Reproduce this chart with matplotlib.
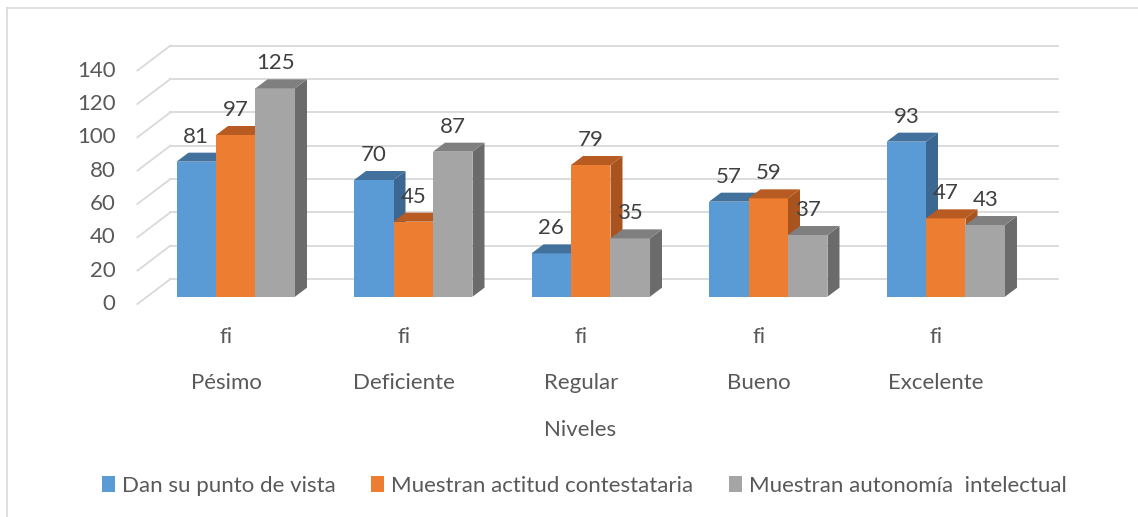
import matplotlib
matplotlib.use("Agg")
import matplotlib.pyplot as plt
from matplotlib.patches import Polygon, Patch
from matplotlib.lines import Line2D
from matplotlib.transforms import IdentityTransform
import numpy as np

categories = ["Pésimo", "Deficiente", "Regular", "Bueno", "Excelente"]
sub_label = "fi"
series_names = ["Dan su punto de vista", "Muestran actitud contestataria",
                "Muestran autonomía  intelectual"]
dan_su_punto = [81, 70, 26, 57, 93]
actitud_contestataria = [97, 45, 79, 59, 47]
autonomia_intelectual = [125, 87, 35, 37, 43]
yticks = [0, 20, 40, 60, 80, 100, 120, 140]
x_title = "Niveles"

series = [dan_su_punto, actitud_contestataria, autonomia_intelectual]
front_colors = ["#5B9BD5", "#ED7D31", "#A5A5A5"]
top_colors = ["#41719C", "#B85B22", "#7F7F7F"]
side_colors = ["#3B6790", "#A9541F", "#6B6B6B"]

DPI = 100
W, H = 1138, 517
fig = plt.figure(figsize=(W / DPI, H / DPI), dpi=DPI)
fig.patch.set_facecolor("white")
FONT = ["Lato", "DejaVu Sans"]
plt.rcParams["font.family"] = FONT
FS = 16

# axes = front plane of the bars (pixel geometry)
left_px, right_px = 147.0, 1034.5
bottom_px, top_px = 296.7, 63.3
ax = fig.add_axes([left_px / W, (H - bottom_px) / H,
                   (right_px - left_px) / W, (bottom_px - top_px) / H])
ax.set_xlim(-0.5, len(categories) - 0.5)
ax.set_ylim(0, 140)
ax.axis("off")

# depth shifts in pixels (x right, y up)
BACK = np.array([23.4, 17.7])
FLOOR = np.array([-9.6, -7.3])
DEPTH = np.array([12.0, 9.0])

def P(x, v, shift=(0, 0)):
    return ax.transData.transform((x, v)) + np.asarray(shift)

grid_c = "#D9D9D9"
for v in yticks:
    a = P(-0.5, v, BACK)
    b = P(len(categories) - 0.5, v, BACK)
    ax.add_line(Line2D([a[0], b[0]], [a[1], b[1]], transform=IdentityTransform(),
                       color=grid_c, lw=1.3, zorder=1, clip_on=False))
    c = P(-0.5, v, FLOOR)
    ax.add_line(Line2D([c[0], a[0]], [c[1], a[1]], transform=IdentityTransform(),
                       color=grid_c, lw=1.3, zorder=1, clip_on=False))
    fig.text((c[0] - 22) / W, c[1] / H, str(v), ha="right", va="center",
             fontsize=FS, color="#595959")

w = 0.2225
x = np.arange(len(categories))
z = 3
for i in range(len(categories)):
    for s, vals in enumerate(series):
        xc = x[i] + (s - 1) * w
        v = vals[i]
        x0, x1 = xc - w / 2, xc + w / 2
        bl, br, tl, tr = P(x0, 0), P(x1, 0), P(x0, v), P(x1, v)
        front = Polygon([bl, br, tr, tl], closed=True, transform=IdentityTransform(),
                        facecolor=front_colors[s], edgecolor="none", zorder=z)
        top = Polygon([tl, tr, tr + DEPTH, tl + DEPTH], closed=True,
                      transform=IdentityTransform(), facecolor=top_colors[s],
                      edgecolor="none", zorder=z)
        side = Polygon([br, br + DEPTH, tr + DEPTH, tr], closed=True,
                       transform=IdentityTransform(), facecolor=side_colors[s],
                       edgecolor="none", zorder=z)
        for p in (side, front, top):
            p.set_clip_on(False)
            ax.add_patch(p)
        z += 1
        ax.annotate(str(v), xy=(xc, v), xytext=(0, 25), textcoords="offset pixels",
                    ha="center", va="center", fontsize=FS, color="#404040",
                    zorder=100, annotation_clip=False)

for i, cat in enumerate(categories):
    c = P(x[i], 0, FLOOR)
    fig.text(c[0] / W, (H - 336.7) / H, sub_label, ha="center", va="center",
             fontsize=FS, color="#595959")
    fig.text(c[0] / W, (H - 382.7) / H, cat, ha="center", va="center",
             fontsize=FS, color="#595959")

fig.text(580 / W, (H - 430) / H, x_title, ha="center", va="center",
         fontsize=FS, color="#595959")

handles = [Patch(facecolor=front_colors[s], edgecolor="none") for s in range(3)]
leg = fig.legend(handles, series_names, loc="center", ncol=3,
                 bbox_to_anchor=(584 / W, (H - 486) / H), frameon=False,
                 fontsize=FS, labelcolor="#595959", handlelength=0.6,
                 handleheight=0.75, handletextpad=0.3, columnspacing=1.6)

# chart border (top and left)
fig.add_artist(Line2D([7 / W, 7 / W], [0, (H - 8) / H], transform=fig.transFigure,
                      color=grid_c, lw=1.2))
fig.add_artist(Line2D([7 / W, 1], [(H - 8) / H, (H - 8) / H], transform=fig.transFigure,
                      color=grid_c, lw=1.2))

fig.savefig("out.png", dpi=DPI)
